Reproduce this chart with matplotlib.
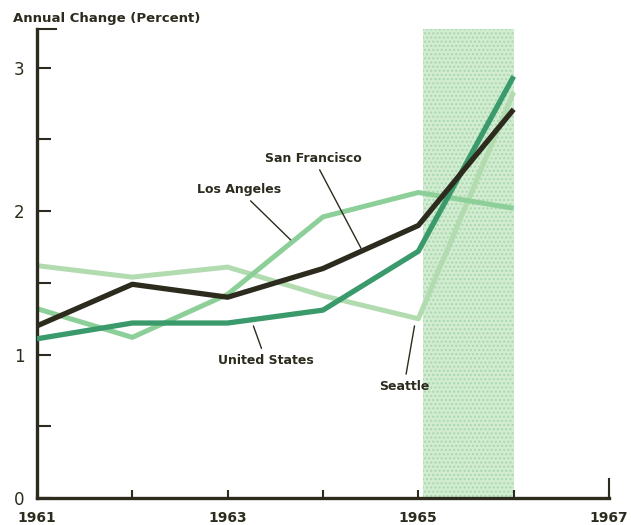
import matplotlib
matplotlib.use("Agg")
import matplotlib.pyplot as plt

# data
years = [1961, 1962, 1963, 1964, 1965, 1966]
san_francisco = [1.20, 1.49, 1.40, 1.60, 1.90, 2.71]
united_states = [1.11, 1.22, 1.22, 1.31, 1.72, 2.94]
los_angeles = [1.32, 1.12, 1.42, 1.96, 2.13, 2.02]
seattle = [1.62, 1.54, 1.61, 1.41, 1.25, 2.83]

shade_start, shade_end = 1965.05, 1966.0
year_ticks = [1961, 1962, 1963, 1964, 1965, 1966, 1967]
year_labels = ["1961", "", "1963", "", "1965", "", "1967"]
pct_ticks = [0, 0.5, 1, 1.5, 2, 2.5, 3]
pct_labels = ["0", "", "1", "", "2", "", "3"]

DARK = "#2d2b1e"
US_GREEN = "#3a9a6c"
LA_GREEN = "#8ccf98"
SEA_GREEN = "#b2dcb0"

fig = plt.figure(figsize=(6.31, 5.25), dpi=100)
ax = fig.add_axes([0.0586, 0.0514, 0.9065, 0.8934])

ax.axvspan(shade_start, shade_end, ymax=1.0085, facecolor="#d2ecd2",
           edgecolor="#a8d8ac", hatch="....", lw=0, zorder=0)

ax.plot(years, seattle, color=SEA_GREEN, lw=3.6, solid_capstyle="butt", zorder=2)
ax.plot(years, los_angeles, color=LA_GREEN, lw=3.6, solid_capstyle="butt", zorder=2)
ax.plot(years, united_states, color=US_GREEN, lw=3.8, solid_capstyle="butt", zorder=3)
ax.plot(years, san_francisco, color=DARK, lw=3.8, solid_capstyle="butt", zorder=4)

ax.set_xlim(1961, 1967)
ax.set_ylim(0, 3.27)
for side in ("top", "right"):
    ax.spines[side].set_visible(False)
for side in ("left", "bottom"):
    ax.spines[side].set_linewidth(2.4)
    ax.spines[side].set_color(DARK)

ax.set_xticks(year_ticks)
ax.set_xticklabels(year_labels, fontsize=10, fontweight="bold", color=DARK)
ax.set_yticks(pct_ticks)
ax.set_yticklabels(pct_labels, fontsize=12, color=DARK)
ax.tick_params(axis="x", direction="in", length=6, width=1.5, color=DARK, pad=9)
ax.tick_params(axis="y", direction="in", length=10, width=1.5, color=DARK, pad=9)

# cap at top of y axis and taller tick at 1967
ax.plot([1961, 1961.2], [3.27, 3.27], color=DARK, lw=1.5, clip_on=False)
ax.plot([1967, 1967], [0, 0.13], color=DARK, lw=1.5, clip_on=False)

fig.text(0.02, 0.965, "Annual Change (Percent)", fontsize=9.5, fontweight="bold",
         color=DARK, ha="left", va="center")

lab = dict(fontsize=9, fontweight="bold", color=DARK, ha="center", va="center")
line = dict(arrowstyle="-", color=DARK, lw=1.0, shrinkA=2, shrinkB=0)
ax.annotate("San Francisco", xy=(1964.4, 1.74), xytext=(1963.9, 2.37),
            arrowprops=line, **lab)
ax.annotate("Los Angeles", xy=(1963.66, 1.80), xytext=(1963.12, 2.15),
            arrowprops=line, **lab)
ax.annotate("United States", xy=(1963.27, 1.20), xytext=(1963.4, 0.96),
            arrowprops=line, **lab)
ax.annotate("Seattle", xy=(1964.96, 1.20), xytext=(1964.85, 0.78),
            arrowprops=line, **lab)

fig.savefig("out.png", dpi=100)
